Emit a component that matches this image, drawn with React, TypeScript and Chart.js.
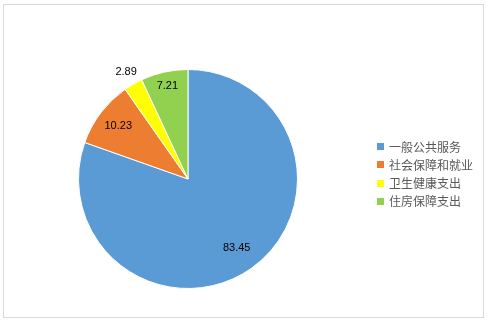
import React, { useEffect, useRef } from 'react';
import { Chart, registerables } from 'chart.js';

Chart.register(...registerables);

const categories = ['一般公共服务', '社会保障和就业', '卫生健康支出', '住房保障支出'];
const values = [83.45, 10.23, 2.89, 7.21];
const colors = ['#5B9BD5', '#ED7D31', '#FFFF00', '#92D050'];

const labelRadius = [0.77, 0.8, 1.13, 0.87];

const framePlugin = {
  id: 'frame',
  beforeDraw(chart: any) {
    const ctx = chart.ctx;
    ctx.save();
    ctx.fillStyle = '#ffffff';
    ctx.fillRect(0, 0, chart.width, chart.height);
    ctx.strokeStyle = '#d9d9d9';
    ctx.lineWidth = 1;
    ctx.strokeRect(3.5, 4.5, 480, 313);
    ctx.restore();
  },
};

const valueLabelPlugin = {
  id: 'valueLabels',
  afterDatasetsDraw(chart: any) {
    const ctx = chart.ctx;
    const meta = chart.getDatasetMeta(0);
    const data = chart.data.datasets[0].data;
    ctx.save();
    ctx.font = '11px "Liberation Sans", Arial, sans-serif';
    ctx.fillStyle = '#000000';
    ctx.textAlign = 'center';
    ctx.textBaseline = 'middle';
    meta.data.forEach((arc: any, i: number) => {
      const p = arc.getProps(['x', 'y', 'startAngle', 'endAngle', 'outerRadius'], true);
      const mid = (p.startAngle + p.endAngle) / 2;
      const r = p.outerRadius * labelRadius[i];
      ctx.fillText(String(data[i]), p.x + Math.cos(mid) * r, p.y + Math.sin(mid) * r);
    });
    ctx.restore();
  },
};

const legendPlugin = {
  id: 'customLegend',
  afterDraw(chart: any) {
    const ctx = chart.ctx;
    const labels = chart.data.labels;
    const bg = chart.data.datasets[0].backgroundColor;
    ctx.save();
    ctx.font = '12px "Noto Sans CJK SC", sans-serif';
    ctx.textBaseline = 'middle';
    ctx.textAlign = 'left';
    labels.forEach((lab: string, i: number) => {
      const cy = 146.5 + i * 18.3;
      ctx.fillStyle = bg[i];
      ctx.fillRect(377, Math.round(cy - 3.5), 7, 7);
      ctx.fillStyle = '#595959';
      ctx.fillText(lab, 389, cy + 0.5);
    });
    ctx.restore();
  },
};

export default function App() {
  const ref = useRef<HTMLCanvasElement | null>(null);
  useEffect(() => {
    if (!ref.current) return;
    const chart = new Chart(ref.current, {
      type: 'pie',
      data: {
        labels: categories,
        datasets: [
          {
            data: values,
            backgroundColor: colors,
            borderColor: '#ffffff',
            borderWidth: 1,
          },
        ],
      },
      options: {
        responsive: false,
        animation: false,
        layout: { padding: { left: 78, top: 69, right: 192, bottom: 35 } },
        plugins: {
          legend: { display: false },
          tooltip: { enabled: false },
        },
      },
      plugins: [framePlugin, valueLabelPlugin, legendPlugin],
    });
    return () => chart.destroy();
  }, []);
  return (
    <div style={{ position: 'fixed', left: 0, top: 0, width: 490, height: 324, background: '#fff' }}>
      <canvas ref={ref} width={490} height={324} style={{ display: 'block' }} />
    </div>
  );
}
